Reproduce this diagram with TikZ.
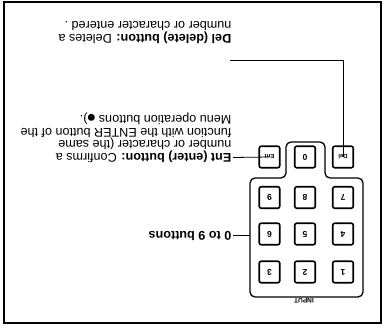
\documentclass[tikz,border=0pt]{standalone}
\usepackage{fontspec}
\setmainfont{Liberation Sans}
\newfontfamily\dejavu{DejaVu Sans}
\begin{document}
\begin{tikzpicture}[x=1pt,y=1pt,
  frame/.style={draw=black,line width=1.1pt},
  padline/.style={draw=black,line width=1.3pt,rounded corners=5pt},
  keybox/.style={draw=black,line width=1.6pt,rounded corners=2pt,minimum width=20.5pt,minimum height=21.5pt,inner sep=0pt,font=\fontsize{8.5}{9}\selectfont\bfseries},
  smallkey/.style={keybox,font=\fontsize{6}{6}\selectfont\bfseries},
  lbl/.style={inner sep=0pt,anchor=base west,font=\fontsize{12.6}{12.8}\selectfont},
  conn/.style={draw=black,line width=0.8pt}]
\useasboundingbox (0,0) rectangle (385,327);
\begin{scope}[rotate around={180:(192.5,163.5)},transform shape]
  \draw[frame] (4,2) rectangle (381,323);
  % keypad outline
  \draw[padline] (22,178) -- (22,297) -- (135,297) -- (135,178) -- (99,178) -- (99,142) -- (60,142) -- (60,178) -- cycle;
  % keys
  \node[keybox] (k1) at (42,272) {1};
  \node[keybox] (k2) at (80,272) {2};
  \node[keybox] (k3) at (115.5,272) {3};
  \node[keybox] (k4) at (42,234) {4};
  \node[keybox] (k5) at (80,234) {5};
  \node[keybox] (k6) at (115.5,234) {6};
  \node[keybox] (k7) at (42,197.5) {7};
  \node[keybox] (k8) at (80,197.5) {8};
  \node[keybox] (k9) at (115.5,197.5) {9};
  \node[smallkey] (del) at (42,157) {Del};
  \node[keybox] (k0) at (80,157) {0};
  \node[smallkey] (ent) at (115.5,157) {Ent};
  \node[inner sep=0pt,font=\fontsize{6.5}{7}\selectfont\bfseries] (input) at (81,301) {INPUT};
  % labels
  \node[lbl] (numtext) at (153.5,231.4) {\bfseries 0 to 9 buttons};
  \node[lbl] (ent1) at (153.5,153.6) {\textbf{Ent (enter) button:} Confirms a};
  \node[lbl] (ent2) at (153.5,140.8) {number or character (the same};
  \node[lbl] (ent3) at (153.5,128.0) {function with the ENTER button of the};
  \node[lbl] (ent4) at (153.5,115.2) {Menu operation buttons {\dejavu\fontsize{9}{9}\selectfont ●}).};
  \node[lbl] (del1) at (153.5,34.6) {\textbf{Del (delete) button:} Deletes a};
  \node[lbl] (del2) at (153.5,21.8) {number or character entered .};
  % connectors
  \coordinate (padedge) at (135,235);
  \coordinate (numpt) at (152,235);
  \coordinate (entpt) at (152,157.5);
  \coordinate (delpt) at (155,60);
  \draw[conn] (padedge) -- (numpt);
  \draw[conn] (ent.center) -- (entpt);
  \draw[conn] (del.center) |- (delpt);
\end{scope}
\end{tikzpicture}
\end{document}
